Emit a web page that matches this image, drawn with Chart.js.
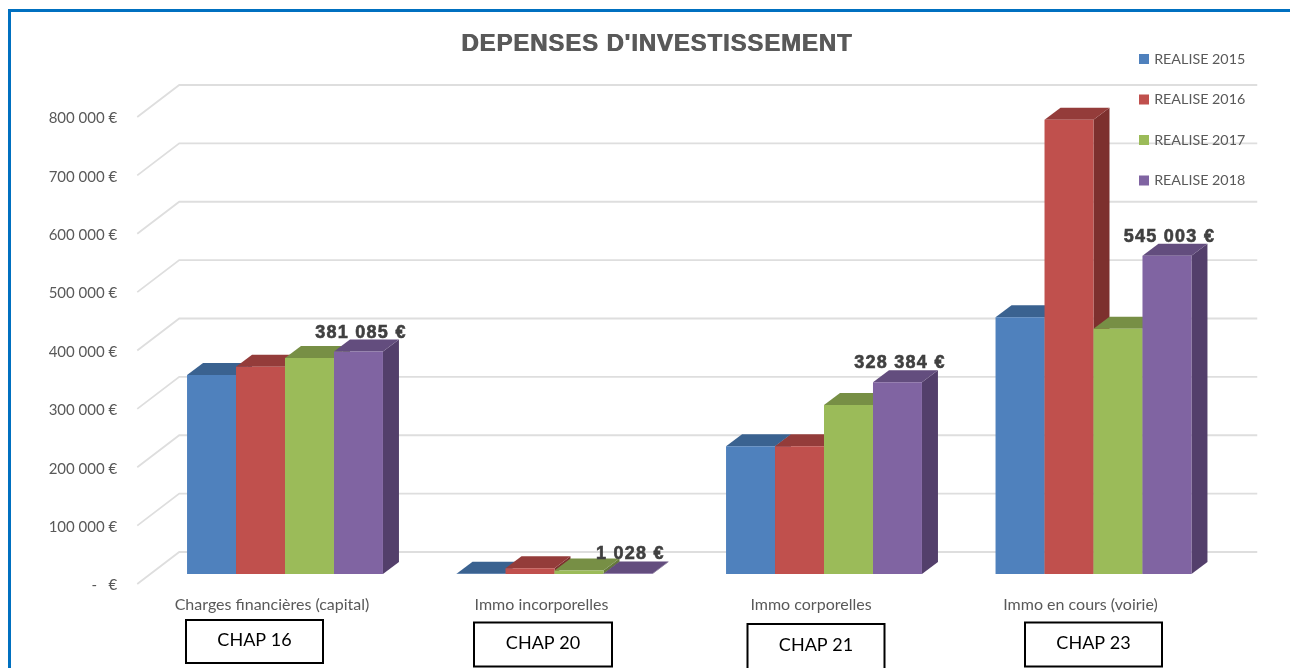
<!DOCTYPE html>
<html><head><meta charset="utf-8">
<script src="https://cdn.jsdelivr.net/npm/chart.js@4"></script>
<style>
html,body{margin:0;padding:0;background:#fff;width:1290px;height:668px;overflow:hidden}
#frame{position:absolute;left:8px;top:9px;width:1290px;height:670px;border-top:3px solid #0070C0;border-left:3px solid #0070C0}
canvas{position:absolute;left:0;top:0}
</style></head><body>
<div id="frame"></div>
<canvas id="c" width="1290" height="668"></canvas>
<script>
const categories = ["Charges financières (capital)", "Immo incorporelles", "Immo corporelles", "Immo en cours (voirie)"];
const seriesNames = ["REALISE 2015", "REALISE 2016", "REALISE 2017", "REALISE 2018"];
const realise2015 = [341000, 500, 219000, 440000];
const realise2016 = [355000, 10000, 219000, 778000];
const realise2017 = [370000, 6000, 289500, 420000];
const realise2018 = [381085, 1028, 328384, 545003];
const frontColors = ["#4F81BD", "#C0504D", "#9BBB59", "#8064A2"];
const topColors = ["#3A6290", "#943C3A", "#778F45", "#634D7E"];
const sideColors = ["#325680", "#7D302E", "#667A3B", "#533F6B"];
const chapLabels = ["CHAP 16", "CHAP 20", "CHAP 21", "CHAP 23"];
const chapBoxes = [[186,620,137,43],[474,622.5,138,44],[747.5,624,137,46],[1025,622.5,137,44]];
const fmt = v => v === 0 ? "-   €" : String(v).replace(/\B(?=(\d{3})+$)/g, " ") + " €";

const BAR_DX = 16, BAR_DY = -12;
const GRID_FRONT = {dx:-13, dy:10}, GRID_BACK = {dx:29, dy:-22};

const scene3d = {
  id: "scene3d",
  afterLayout(chart) {
    const l = chart.legend;
    l.left = 1114.8; l.right = 1290; l.top = 25.6; l.bottom = 300; l.width = 175.2; l.height = 274.4;
    l.adjustHitBoxes();
    const tb = chart.titleBlock;
    tb.left = 85;
    if (!tb._heavy) {
      tb._heavy = true;
      const drawTitle = tb.draw;
      tb.draw = function () {
        const c = chart.ctx;
        c.save();
        c.letterSpacing = "0.85px";
        c.shadowColor = "#595959"; c.shadowBlur = 0; c.shadowOffsetX = 0.8; c.shadowOffsetY = 0;
        drawTitle.call(this);
        c.restore();
      };
    }
  },
  beforeDraw(chart) {
    const {ctx, scales:{y}, chartArea:a} = chart;
    ctx.save();
    ctx.strokeStyle = "#DEDEDE"; ctx.lineWidth = 1.8;
    y.ticks.forEach(t => {
      const p = y.getPixelForValue(t.value);
      ctx.beginPath();
      ctx.moveTo(a.left + GRID_FRONT.dx, p + GRID_FRONT.dy);
      ctx.lineTo(a.left + GRID_BACK.dx, p + GRID_BACK.dy);
      ctx.lineTo(a.right + GRID_BACK.dx, p + GRID_BACK.dy);
      ctx.stroke();
    });
    ctx.restore();
  },
  beforeDatasetsDraw(chart) {
    const ctx = chart.ctx;
    for (let i = 0; i < chart.data.datasets.length; i++) {
      const meta = chart.getDatasetMeta(i);
      meta.data.forEach(b => {
        const p = b.getProps(["x","y","base","width"]);
        const L = p.x - p.width/2, R = p.x + p.width/2;
        ctx.fillStyle = sideColors[i];
        ctx.beginPath();
        ctx.moveTo(R, p.y); ctx.lineTo(R + BAR_DX, p.y + BAR_DY);
        ctx.lineTo(R + BAR_DX, p.base + BAR_DY); ctx.lineTo(R, p.base);
        ctx.closePath(); ctx.fill();
        ctx.fillStyle = topColors[i];
        ctx.beginPath();
        ctx.moveTo(L, p.y); ctx.lineTo(L + BAR_DX, p.y + BAR_DY);
        ctx.lineTo(R + BAR_DX, p.y + BAR_DY); ctx.lineTo(R, p.y);
        ctx.closePath(); ctx.fill();
      });
      meta.controller.draw();
    }
    return false;
  },
  afterDraw(chart) {
    const ctx = chart.ctx;
    ctx.save();
    const meta = chart.getDatasetMeta(3);
    ctx.font = "bold 18px 'Liberation Sans'";
    ctx.letterSpacing = "1.25px";
    ctx.textAlign = "center"; ctx.textBaseline = "middle";
    ctx.fillStyle = "#404040"; ctx.strokeStyle = "#404040"; ctx.lineWidth = 0.6;
    meta.data.forEach((b, i) => {
      const t = fmt(realise2018[i]);
      ctx.fillText(t, b.x + 2.5, b.y - 19);
      ctx.strokeText(t, b.x + 2.5, b.y - 19);
    });
    ctx.letterSpacing = "0px";
    ctx.font = "18px Lato";
    chapLabels.forEach((t, i) => {
      const [x, yy, w, h] = chapBoxes[i];
      ctx.fillStyle = "#fff"; ctx.fillRect(x, yy, w, h);
      ctx.strokeStyle = "#000"; ctx.lineWidth = 2; ctx.strokeRect(x, yy, w, h);
      ctx.fillStyle = "#000"; ctx.fillText(t, x + w/2, yy + h/2 - 1.5);
    });
    ctx.restore();
  }
};

new Chart(document.getElementById("c"), {
  type: "bar",
  data: {
    labels: categories,
    datasets: [realise2015, realise2016, realise2017, realise2018].map((d, i) => ({
      label: seriesNames[i], data: d, backgroundColor: frontColors[i],
      barPercentage: 1, categoryPercentage: 0.727
    }))
  },
  options: {
    responsive: false, animation: false,
    layout: {padding: {left: 0, right: 61.75, top: 0, bottom: 0}},
    plugins: {
      tooltip: {enabled: false},
      title: {display: true, text: "DEPENSES D'INVESTISSEMENT", color: "#595959",
        font: {family: "'Liberation Sans'", size: 24, weight: "bold", lineHeight: 1.2},
        padding: {top: 29.5, bottom: 48.7}},
      legend: {position: "chartArea", align: "start",
        labels: {color: "#595959", font: {family: "Lato", size: 14.3}, boxWidth: 6, boxHeight: 6, padding: 26.2,
          generateLabels(chart) {
            return Chart.defaults.plugins.legend.labels.generateLabels(chart).map(it =>
              Object.assign(it, {lineWidth: 4, strokeStyle: it.fillStyle}));
          }}}
    },
    scales: {
      x: {
        grid: {display: false}, border: {display: false},
        ticks: {color: "#595959", font: {family: "Lato", size: 16}, padding: 13, labelOffset: -13, maxRotation: 0, autoSkip: false},
        afterFit(s) { s.height = 94; s.paddingLeft = s.paddingRight = 0; }
      },
      y: {
        min: 0, max: 800000,
        grid: {display: false, drawTicks: false}, border: {display: false},
        ticks: {color: "#595959", font: {family: "Lato", size: 15}, stepSize: 100000, padding: 33, labelOffset: 11.5,
          callback: v => fmt(v)},
        afterFit(s) { s.width = 150.25; s.paddingTop = s.paddingBottom = 0; }
      }
    }
  },
  plugins: [scene3d]
});
</script>
</body></html>
